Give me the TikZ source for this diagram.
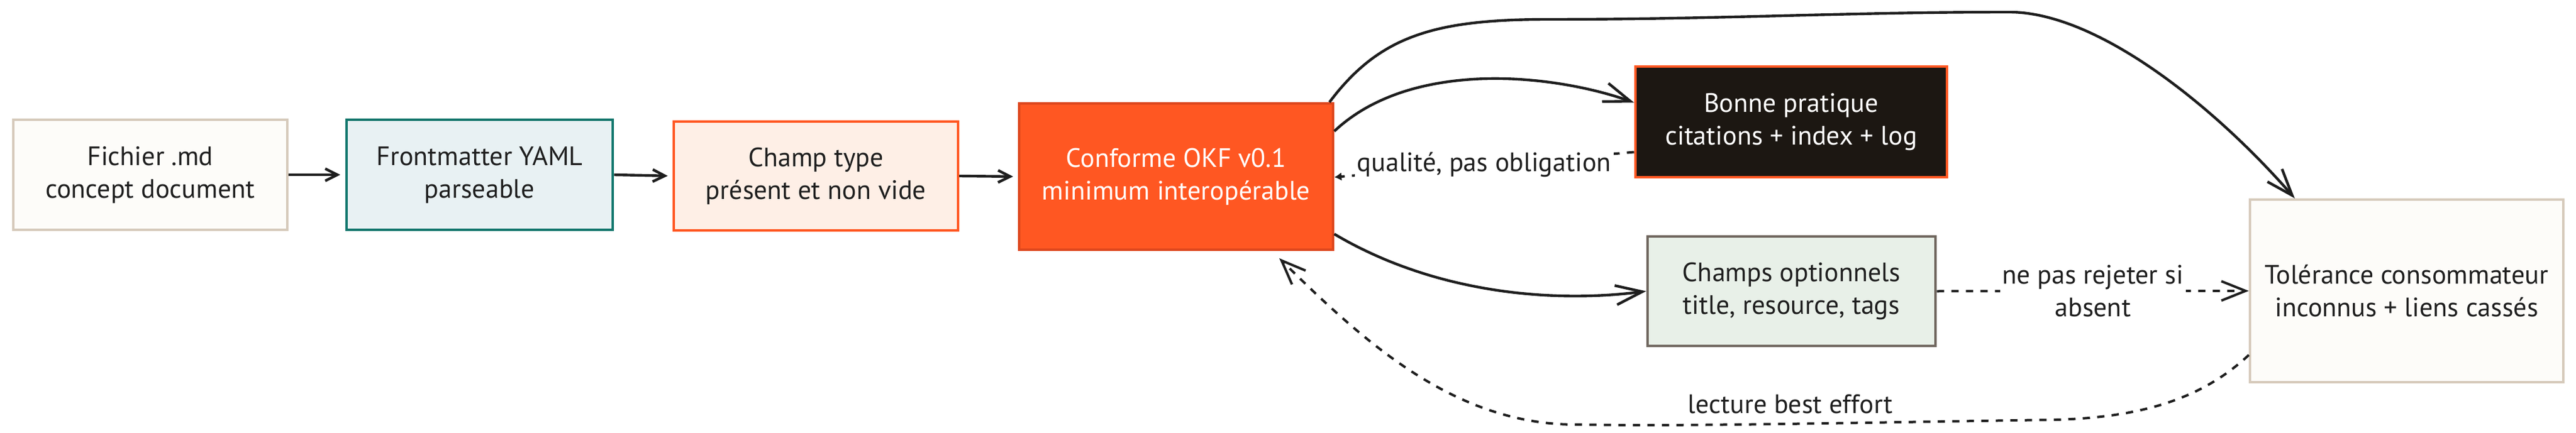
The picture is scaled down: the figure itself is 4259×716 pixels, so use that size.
\documentclass[tikz,border=0pt]{standalone}
\usepackage{fontspec}
\setmainfont{PT Sans}
\usetikzlibrary{arrows.meta}
\definecolor{ink}{HTML}{1E1E1E}
\definecolor{cream}{HTML}{FDFCF9}
\definecolor{beige}{HTML}{D6CABB}
\definecolor{tealfill}{HTML}{E8F1F3}
\definecolor{teal}{HTML}{12776D}
\definecolor{peach}{HTML}{FEEFE6}
\definecolor{vermil}{HTML}{FF5722}
\definecolor{vermildark}{HTML}{DD461C}
\definecolor{nearblack}{HTML}{1C1712}
\definecolor{sage}{HTML}{E8F0E8}
\definecolor{taupe}{HTML}{70675F}
\begin{document}
\begin{tikzpicture}[x=0.25pt,y=-0.25pt,
  box/.style={draw, line width=1pt, align=center, inner sep=0pt, text=ink,
    font=\fontsize{11}{13.5}\selectfont},
  lbl/.style={fill=white, align=center, inner sep=2pt, text=ink,
    font=\fontsize{11}{13.5}\selectfont},
  shortarr/.style={draw=ink, line width=1.1pt, -{Straight Barb[length=5pt,width=5pt]}},
  arr/.style={draw=ink, line width=1.1pt, -{Straight Barb[length=11pt,width=8pt]}},
  darr/.style={draw=ink, line width=1pt, dash pattern=on 3pt off 3pt,
    -{Straight Barb[length=10pt,width=8pt]}},
]
\useasboundingbox (0,0) rectangle (4259,716);

\node[box, fill=cream, draw=beige, minimum width=113.25pt, minimum height=45.5pt]
  (fich) at (248.5,289) {Fichier .md\\concept document};
\node[box, fill=tealfill, draw=teal, line width=1.2pt, minimum width=110pt, minimum height=45.5pt]
  (front) at (793,289) {Frontmatter YAML\\parseable};
\node[box, fill=peach, draw=vermil, minimum width=117.5pt, minimum height=45pt]
  (champ) at (1349,291) {Champ type\\présent et non vide};
\node[box, fill=vermil, draw=vermildark, text=white, minimum width=129.75pt, minimum height=60.5pt]
  (conf) at (1944.5,292) {Conforme OKF v0.1\\minimum interopérable};
\node[box, fill=nearblack, draw=vermil, text=white, line width=1.2pt, minimum width=128.75pt, minimum height=45.75pt]
  (bonne) at (2961.5,201.5) {Bonne pratique\\citations + index + log};
\node[box, fill=sage, draw=taupe, line width=1.2pt, minimum width=119pt, minimum height=45.25pt]
  (opt) at (2962,481.5) {Champs optionnels\\title, resource, tags};
\node[box, fill=cream, draw=beige, minimum width=129.5pt, minimum height=75.5pt]
  (tol) at (3979,481) {Tolérance consommateur\\inconnus + liens cassés};

% straight chain
\draw[shortarr, shorten >=2pt] (fich.east) -- (front.west);
\draw[shortarr, shorten >=2pt] (front.east) -- (champ.west);
\draw[shortarr, shorten >=2pt] (champ.east) -- (conf.west);

% curved solid arrows
\draw[arr] ([xshift=-2pt]conf.north east) .. controls (2280,60) and (2370,32) .. (2560,32)
  .. controls (2850,32) and (3050,20) .. (3322,20)
  .. controls (3470,20) and (3665,180) .. (tol.north -| 3794,0);
\draw[arr] ([yshift=18.75pt]conf.east) .. controls (2330,100) and (2560,120) .. ([yshift=8pt]bonne.west);
\draw[arr] ([yshift=-23.75pt]conf.east) .. controls (2380,490) and (2580,500) .. (opt.west);

% dashed arrows
\draw[ink, line width=1pt, dash pattern=on 3pt off 3pt, -{Latex[length=3pt,width=3.5pt]}]
  ([yshift=-12.5pt]bonne.west) -- ([yshift=-0.25pt]conf.east)
  node[lbl, pos=0.5, inner sep=1pt] (q) {qualité, pas obligation};
\draw[darr] (opt.east) -- (tol.west)
  node[lbl, pos=0.5, inner sep=1pt] (np) {ne pas rejeter si\\absent};
\draw[darr] ([yshift=-26.5pt]tol.west) .. controls (3640,660) and (3540,690) .. (3400,694)
  .. controls (3000,700) and (2800,705) .. (2600,702)
  .. controls (2400,700) and (2250,560) .. (2115,427);
\node[lbl, inner sep=3pt] (lb) at (2960,668) {lecture best effort};
\end{tikzpicture}
\end{document}
